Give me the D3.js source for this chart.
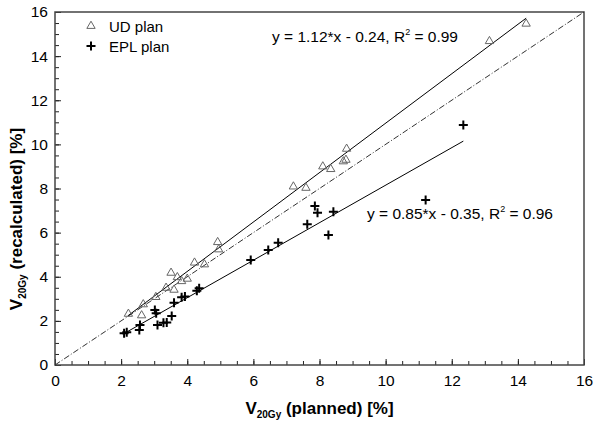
<!DOCTYPE html>
<html>
<head>
<meta charset="utf-8">
<script src="https://d3js.org/d3.v7.min.js"></script>
<style>
  body { margin: 0; background: #fff; }
  text { font-family: "Liberation Sans", Arial, Helvetica, sans-serif; }
</style>
</head>
<body>
<script>
  // UD plan (triangles)
  var udX = [2.22, 2.62, 2.67, 3.05, 3.36, 3.51, 3.60, 3.70, 3.83, 4.00, 4.22, 4.52, 4.92, 4.95, 7.21, 7.59, 8.10, 8.34, 8.72, 8.80, 8.82, 13.14, 14.25];
  var udY = [2.34, 2.27, 2.77, 3.10, 3.52, 4.20, 3.43, 4.00, 3.82, 3.93, 4.66, 4.58, 5.59, 5.26, 8.11, 8.05, 9.02, 8.90, 9.25, 9.32, 9.82, 14.70, 15.49];
  // EPL plan (crosses)
  var eplX = [2.09, 2.17, 2.55, 2.57, 3.02, 3.06, 3.10, 3.28, 3.38, 3.53, 3.60, 3.83, 3.93, 4.29, 4.36, 5.92, 6.45, 6.75, 7.63, 7.86, 7.94, 8.27, 8.42, 11.21, 12.35];
  var eplY = [1.44, 1.48, 1.59, 1.81, 2.49, 2.34, 1.81, 1.92, 1.93, 2.22, 2.82, 3.07, 3.10, 3.37, 3.48, 4.76, 5.21, 5.54, 6.38, 7.21, 6.90, 5.89, 6.95, 7.48, 10.88];
  // fit lines: slope, intercept, x range
  var udFit = {a: 1.12, b: -0.24, x0: 2.2, x1: 14.25};
  var eplFit = {a: 0.85, b: -0.35, x0: 2.05, x1: 12.35};
  var majorTicks = [0, 2, 4, 6, 8, 10, 12, 14, 16];
  var minorTicks = d3.range(0, 16.01, 0.5);

  var width = 600, height = 424;
  var margin = {left: 55, right: 16, top: 12, bottom: 59};

  var svg = d3.select("body").append("svg")
    .attr("width", width)
    .attr("height", height);

  var x = d3.scaleLinear().domain([0, 16]).range([margin.left, width - margin.right]);
  var y = d3.scaleLinear().domain([0, 16]).range([height - margin.bottom, margin.top]);

  // minor ticks (inward, no labels)
  svg.append("g")
    .attr("transform", "translate(0," + y(0) + ")")
    .call(d3.axisBottom(x).tickValues(minorTicks).tickSize(-4).tickFormat(""))
    .call(g => g.select(".domain").remove());
  svg.append("g")
    .attr("transform", "translate(" + x(0) + ",0)")
    .call(d3.axisLeft(y).tickValues(minorTicks).tickSize(-4).tickFormat(""))
    .call(g => g.select(".domain").remove());

  // major ticks with labels
  var xAxis = svg.append("g")
    .attr("transform", "translate(0," + y(0) + ")")
    .call(d3.axisBottom(x).tickValues(majorTicks).tickSize(-6).tickPadding(10).tickFormat(d3.format("d")));
  xAxis.select(".domain").remove();
  xAxis.selectAll("text").attr("font-size", 15.5).attr("fill", "#000").attr("font-family", "Liberation Sans, Arial, sans-serif");

  var yAxis = svg.append("g")
    .attr("transform", "translate(" + x(0) + ",0)")
    .call(d3.axisLeft(y).tickValues(majorTicks).tickSize(-6).tickPadding(7).tickFormat(d3.format("d")));
  yAxis.select(".domain").remove();
  yAxis.selectAll("text").attr("font-size", 15.5).attr("fill", "#000").attr("font-family", "Liberation Sans, Arial, sans-serif");

  svg.selectAll(".tick line").attr("stroke", "#222");

  // frame
  svg.append("rect")
    .attr("x", x(0))
    .attr("y", y(16))
    .attr("width", x(16) - x(0))
    .attr("height", y(0) - y(16))
    .attr("fill", "none")
    .attr("stroke", "#444")
    .attr("stroke-width", 1.5);

  // identity line
  svg.append("line")
    .attr("x1", x(0)).attr("y1", y(0))
    .attr("x2", x(16)).attr("y2", y(16))
    .attr("stroke", "#333")
    .attr("stroke-width", 1)
    .attr("stroke-dasharray", "6,2,1,2");

  // fit lines
  [udFit, eplFit].forEach(function(f) {
    svg.append("line")
      .attr("x1", x(f.x0)).attr("y1", y(f.a * f.x0 + f.b))
      .attr("x2", x(f.x1)).attr("y2", y(f.a * f.x1 + f.b))
      .attr("stroke", "#000")
      .attr("stroke-width", 1);
  });

  var tri = d3.symbol().type(d3.symbolTriangle).size(30);
  function cross(px, py, s) {
    return "M" + (px - s) + "," + py + "H" + (px + s) + "M" + px + "," + (py - s) + "V" + (py + s);
  }

  // UD markers
  svg.append("g").selectAll("path")
    .data(d3.range(udX.length))
    .join("path")
      .attr("d", tri)
      .attr("transform", i => "translate(" + x(udX[i]) + "," + (y(udY[i]) + 0.5) + ")")
      .attr("fill", "none")
      .attr("stroke", "#666")
      .attr("stroke-width", 1);

  // EPL markers
  svg.append("g").selectAll("path")
    .data(d3.range(eplX.length))
    .join("path")
      .attr("d", i => cross(x(eplX[i]), y(eplY[i]), 4.5))
      .attr("stroke", "#000")
      .attr("stroke-width", 2)
      .attr("fill", "none");

  // legend
  svg.append("path")
    .attr("d", tri)
    .attr("transform", "translate(91,26)")
    .attr("fill", "none")
    .attr("stroke", "#666");
  svg.append("path")
    .attr("d", cross(91, 46, 4.5))
    .attr("stroke", "#000")
    .attr("stroke-width", 2);
  svg.append("text").attr("x", 109).attr("y", 32).attr("font-size", 15).text("UD plan");
  svg.append("text").attr("x", 109).attr("y", 52).attr("font-size", 15).text("EPL plan");

  // equations
  function equation(tx, ty, label, r2) {
    var t = svg.append("text").attr("x", tx).attr("y", ty).attr("font-size", 15.5);
    t.append("tspan").text(label + ", R");
    t.append("tspan").attr("font-size", 9).attr("dy", -7).text("2");
    t.append("tspan").attr("dy", 7).text(" = " + r2);
  }
  equation(272, 42, "y = 1.12*x - 0.24", "0.99");
  equation(367, 219, "y = 0.85*x - 0.35", "0.96");

  // axis titles
  var xt = svg.append("text")
    .attr("x", (x(0) + x(16)) / 2)
    .attr("y", 414)
    .attr("text-anchor", "middle")
    .attr("font-size", 17)
    .attr("font-weight", "bold");
  xt.append("tspan").text("V");
  xt.append("tspan").attr("font-size", 10).attr("dy", 4).text("20Gy");
  xt.append("tspan").attr("dy", -4).text(" (planned) [%]");

  var yt = svg.append("text")
    .attr("transform", "translate(22,219) rotate(-90)")
    .attr("text-anchor", "middle")
    .attr("font-size", 17)
    .attr("font-weight", "bold");
  yt.append("tspan").text("V");
  yt.append("tspan").attr("font-size", 10).attr("dy", 4).text("20Gy");
  yt.append("tspan").attr("dy", -4).text(" (recalculated) [%]");
</script>
</body>
</html>
